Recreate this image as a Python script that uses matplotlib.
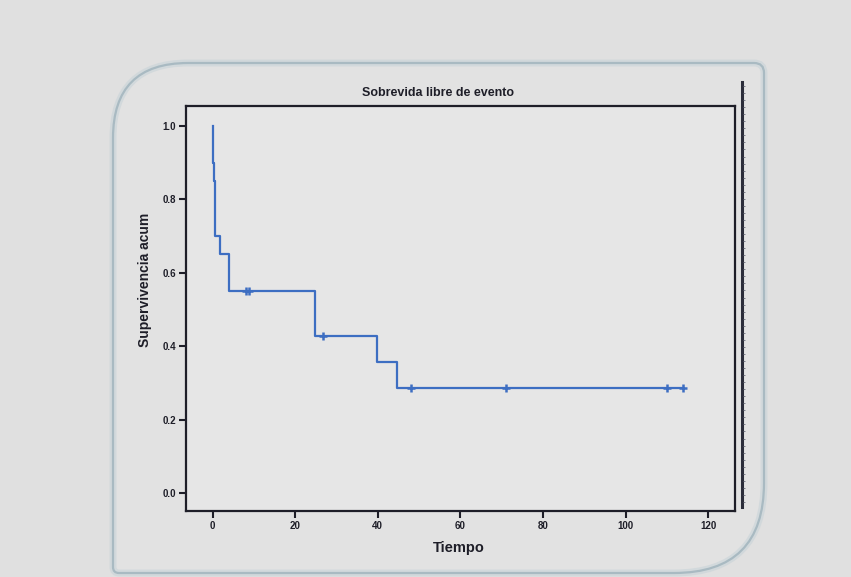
import numpy as np
import matplotlib.pyplot as plt
from matplotlib.path import Path
from matplotlib.patches import PathPatch

# tiempos de seguimiento y evento (1) / censura (0)
tiempo = [0.05, 0.15, 0.3, 0.6, 0.6, 0.6, 1.8, 3.9, 3.9, 8.0, 8.8,
          24.7, 24.7, 26.7, 39.9, 44.7, 48.0, 71.0, 110.0, 114.0]
evento = [1, 1, 1, 1, 1, 1, 1, 1, 1, 0, 0,
          1, 1, 0, 1, 1, 0, 0, 0, 0]
xticks = [0, 20, 40, 60, 80, 100, 120]
yticks = [0.0, 0.2, 0.4, 0.6, 0.8, 1.0]

t = np.array(tiempo)
e = np.array(evento)

# Kaplan-Meier
tiempos_ev = np.unique(t[e == 1])
surv = []
s = 1.0
for ti in tiempos_ev:
    n_riesgo = np.sum(t >= ti)
    d = np.sum((t == ti) & (e == 1))
    s = s * (1 - d / n_riesgo)
    surv.append(s)
x_step = np.concatenate([[0], tiempos_ev, [t.max()]])
y_step = np.concatenate([[1.0], surv, [surv[-1]]])

def s_en(tt):
    idx = np.searchsorted(tiempos_ev, tt, side='right')
    return 1.0 if idx == 0 else surv[idx - 1]

t_cens = t[e == 0]
s_cens = [s_en(tt) for tt in t_cens]

W, H = 851, 577
fig = plt.figure(figsize=(W / 100, H / 100), dpi=100)
fig.patch.set_facecolor('#e0e0e0')

# marco redondeado de fondo
bg = fig.add_axes([0, 0, 1, 1], zorder=0)
bg.set_xlim(0, W)
bg.set_ylim(H, 0)
bg.axis('off')
L, T, R, B = 113, 63, 764, 573
r1, r2, r3, r4 = 75, 10, 90, 6
verts = [(L + r1, T), (R - r2, T), (R, T), (R, T + r2), (R, B - r3), (R, B), (R - r3, B),
         (L + r4, B), (L, B), (L, B - r4), (L, T + r1), (L, T), (L + r1, T)]
codes = [Path.MOVETO, Path.LINETO, Path.CURVE3, Path.CURVE3, Path.LINETO, Path.CURVE3, Path.CURVE3,
         Path.LINETO, Path.CURVE3, Path.CURVE3, Path.LINETO, Path.CURVE3, Path.CURVE3]
marco = Path(verts, codes)
bg.add_patch(PathPatch(marco, facecolor='#e4e4e4', edgecolor='#c8d3d8', lw=5, alpha=0.6))
bg.add_patch(PathPatch(marco, facecolor='none', edgecolor='#a9bac2', lw=1.6))
# barra vertical a la derecha
bg.plot([742, 742], [82, 507], color='#2b2d3a', lw=2.2)
bg.plot(np.full(60, 743.5), np.linspace(86, 502, 60), ls='none', marker='_', ms=2,
        mew=0.6, color='#6a6d7a')

ax = fig.add_axes([0.2182, 0.1144, 0.6455, 0.7019], zorder=1)
ax.set_facecolor('#e6e6e6')
ax.step(x_step, y_step, where='post', color='#3d6ec2', lw=1.6)
ax.plot(t_cens, s_cens, ls='none', marker='+', ms=6, mew=1.8, color='#3d6ec2')

ax.set_xlim(-6.5, 126.5)
ax.set_ylim(-0.049, 1.054)
ax.set_xticks(xticks)
ax.set_yticks(yticks)
ax.set_xticklabels([str(v) for v in xticks])
ax.set_yticklabels([f'{v:.1f}' for v in yticks])
for sp in ax.spines.values():
    sp.set_linewidth(1.6)
    sp.set_color('#1e1e28')
ax.tick_params(direction='out', length=5, width=1.5, color='#1e1e28', pad=2)
for lab in ax.get_xticklabels() + ax.get_yticklabels():
    lab.set_fontfamily('Liberation Sans')
    lab.set_fontweight('bold')
    lab.set_fontsize(7)
    lab.set_color('#1e1e28')

fig.text(0.515, 0.839, 'Sobrevida libre de evento', ha='center', va='center',
         fontsize=9, fontweight='bold', family='Liberation Sans', color='#1e1e28')
fig.text(145 / W, 1 - 280 / H, 'Supervivencia acum', ha='center', va='center', rotation=90,
         fontsize=10, fontweight='bold', family='Liberation Sans', color='#1e1e28')
fig.text(459 / W, 1 - 548 / H, 'Tiempo', ha='center', va='center',
         fontsize=10.5, fontweight='bold', family='Liberation Sans', color='#1e1e28')

fig.savefig('out.png', dpi=100, facecolor=fig.get_facecolor())
